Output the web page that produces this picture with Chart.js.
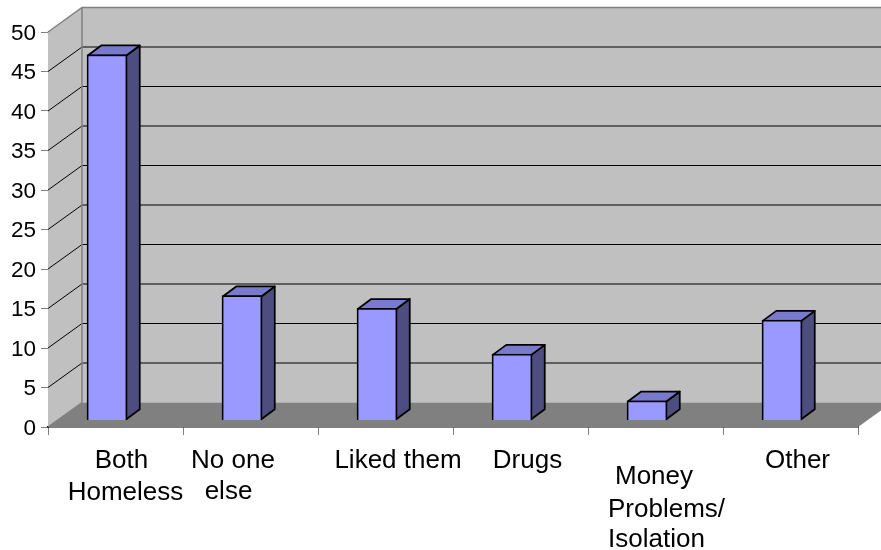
<!DOCTYPE html>
<html>
<head>
<meta charset="utf-8">
<title>Reasons</title>
<script src="https://cdn.jsdelivr.net/npm/chart.js@4"></script>
<style>
    html, body { margin: 0; padding: 0; background: #fff; }
    canvas { display: block; }
</style>
</head>
<body>
<canvas id="chart" width="881" height="550"></canvas>
<script>
const categories = [['Both', 'Homeless'], ['No one', 'else'], ['Liked them'], ['Drugs'], ['Money', 'Problems/', 'Isolation'], ['Other']];
const percentages = [46.3, 15.8, 14.2, 8.4, 2.5, 12.7];
const yMax = 50;
const yStep = 5;

// depth of the box and of the columns standing inside it
const wallDepth = { x: 34, y: -24.5 };
const barInset = { x: -8.5, y: -6.5 };
const barDepth = { x: 13.5, y: -10 };

// hand placement of each category label line: x shift from the tick centre, baseline y
const labelPlacement = [
    [[6, 468], [10, 500]],
    [[-17.5, 468], [-22, 499]],
    [[12.5, 468]],
    [[7, 468]],
    [[-1.5, 484], [11, 517], [1, 547]],
    [[7, 468]]
];

function polygon(ctx, pts, fill, stroke, width) {
    ctx.beginPath();
    pts.forEach((p, i) => i ? ctx.lineTo(p[0], p[1]) : ctx.moveTo(p[0], p[1]));
    ctx.closePath();
    if (fill) { ctx.fillStyle = fill; ctx.fill(); }
    if (stroke) { ctx.strokeStyle = stroke; ctx.lineWidth = width; ctx.lineJoin = 'round'; ctx.stroke(); }
}

const box3d = {
    id: 'box3d',
    // walls, floor and gridlines sit behind the axes
    beforeDatasetsDraw(chart) {
        const ctx = chart.ctx;
        const { left, right } = chart.chartArea;
        const y = chart.scales.y;
        const dx = wallDepth.x, dy = wallDepth.y;
        const y0 = y.getPixelForValue(0), yTop = y.getPixelForValue(yMax);

        ctx.save();
        polygon(ctx, [[left + dx, yTop + dy], [right + dx, yTop + dy], [right + dx, y0 + dy], [left + dx, y0 + dy]], '#c0c0c0');
        polygon(ctx, [[left, yTop], [left + dx, yTop + dy], [left + dx, y0 + dy], [left, y0]], '#c0c0c0');
        polygon(ctx, [[left, y0], [left + dx, y0 + dy], [right + dx, y0 + dy], [right, y0]], '#808080');

        y.ticks.forEach(t => {
            if (t.value === 0 || t.value === yMax) return;
            const py = y.getPixelForValue(t.value);
            ctx.beginPath();
            ctx.moveTo(left, py);
            ctx.lineTo(left + dx, py + dy);
            ctx.lineTo(right + dx, py + dy);
            ctx.strokeStyle = '#000';
            ctx.lineWidth = 1;
            ctx.stroke();
        });

        ctx.beginPath();
        ctx.moveTo(left, yTop);
        ctx.lineTo(left + dx, yTop + dy);
        ctx.lineTo(right + dx, yTop + dy);
        ctx.moveTo(left + dx, yTop + dy);
        ctx.lineTo(left + dx, y0 + dy);
        ctx.moveTo(left, y0);
        ctx.lineTo(left + dx, y0 + dy);
        ctx.strokeStyle = '#808080';
        ctx.lineWidth = 1.5;
        ctx.stroke();
        ctx.restore();

        // columns are drawn shifted into the box, side and top faces first
        ctx.save();
        ctx.translate(barInset.x, barInset.y);
        chart.getDatasetMeta(0).data.forEach(bar => {
            const r = bar.x + bar.width / 2 - 0.75;
            const l = bar.x - bar.width / 2 + 0.75;
            const t = bar.y + 0.75;
            const b = bar.base - 0.75;
            polygon(ctx, [[r, t], [r + barDepth.x, t + barDepth.y], [r + barDepth.x, b + barDepth.y], [r, b]], '#4d4d80', '#000', 1.75);
            polygon(ctx, [[l, t], [l + barDepth.x, t + barDepth.y], [r + barDepth.x, t + barDepth.y], [r, t]], '#7a7acc', '#000', 1.75);
        });
    },
    afterDatasetsDraw(chart) {
        chart.ctx.restore();
    },
    afterDraw(chart) {
        const ctx = chart.ctx;
        const x = chart.scales.x;
        ctx.save();
        ctx.font = '26px "Liberation Sans", Arial, sans-serif';
        ctx.fillStyle = '#000';
        ctx.textAlign = 'center';
        ctx.textBaseline = 'alphabetic';
        categories.forEach((lines, i) => {
            lines.forEach((line, j) => {
                const place = labelPlacement[i][j];
                ctx.fillText(line, x.getPixelForTick(i) + place[0], place[1]);
            });
        });
        ctx.restore();
    }
};

new Chart(document.getElementById('chart').getContext('2d'), {
    type: 'bar',
    data: {
        labels: categories,
        datasets: [{
            data: percentages,
            backgroundColor: '#9999ff',
            borderColor: '#000',
            borderWidth: 1.75,
            barThickness: 40,
            clip: false
        }]
    },
    plugins: [box3d],
    options: {
        responsive: false,
        animation: false,
        layout: { padding: { top: 32, right: 23, bottom: 115, left: 0 } },
        plugins: { legend: { display: false }, tooltip: { enabled: false } },
        scales: {
            x: {
                ticks: { display: false },
                grid: { offset: true, drawOnChartArea: false, tickLength: 8, tickColor: '#808080', tickWidth: 1 },
                border: { color: '#000', width: 1.5 }
            },
            y: {
                min: 0,
                max: yMax,
                ticks: {
                    stepSize: yStep,
                    color: '#000',
                    padding: 5,
                    labelOffset: 1.5,
                    font: { family: '"Liberation Sans", Arial, sans-serif', size: 22.5 }
                },
                grid: { drawOnChartArea: false, tickLength: 7, tickColor: '#808080', tickWidth: 1 },
                border: { color: '#000', width: 1 },
                afterFit(scale) { scale.width = 48; }
            }
        }
    }
});
</script>
</body>
</html>
